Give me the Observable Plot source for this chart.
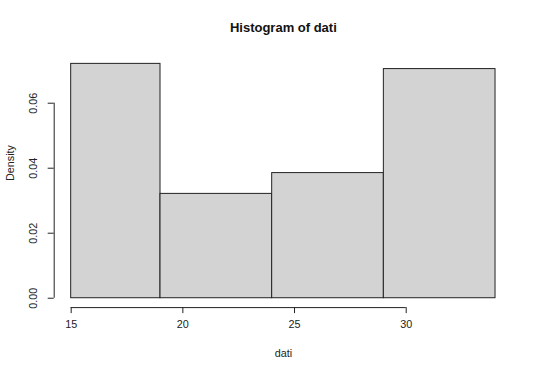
<!DOCTYPE html>
<html>
<head>
<meta charset="utf-8">
<script src="https://cdn.jsdelivr.net/npm/d3@7"></script>
<script src="https://cdn.jsdelivr.net/npm/@observablehq/plot@0.6"></script>
<style>
  body { margin: 0; background: #fff; }
  svg { font-family: "Liberation Sans", Arial, sans-serif; }
</style>
</head>
<body>
<div id="chart"></div>
<script>
const binStart = [15, 19, 24, 29];
const binEnd = [19, 24, 29, 34];
const density = [0.0721, 0.0321, 0.0385, 0.0705];
const xTicks = [15, 20, 25, 30];
const yTicks = [0.00, 0.02, 0.04, 0.06];

const bins = binStart.map((s, i) => ({x1: s, x2: binEnd[i], y: density[i]}));

// R-style 4% axis extension
const xmin = d3.min(binStart), xmax = d3.max(binEnd);
const xpad = (xmax - xmin) * 0.04;
const ymax = d3.max(density);
const ypad = ymax * 0.04;

const chart = Plot.plot({
  width: 540,
  height: 374,
  marginLeft: 53.7,
  marginRight: 28,
  marginTop: 54,
  marginBottom: 66.9,
  style: {color: "#000", background: "#fff", fontSize: "11px"},
  x: {domain: [xmin - xpad, xmax + xpad], axis: null},
  y: {domain: [-ypad, ymax + ypad], axis: null},
  marks: [
    Plot.rectY(bins, {x1: "x1", x2: "x2", y1: 0, y2: "y", fill: "#d3d3d3", stroke: "#222", strokeWidth: 1}),
    // x axis
    Plot.ruleY([-ypad], {x1: d3.min(xTicks), x2: d3.max(xTicks), stroke: "#222"}),
    Plot.axisX(xTicks, {anchor: "bottom", label: null, tickSize: 6, tickPadding: 7, fontSize: 10.8, stroke: "#222", fill: "#222"}),
    // y axis
    Plot.ruleX([xmin - xpad], {y1: d3.min(yTicks), y2: d3.max(yTicks), stroke: "#222"}),
    Plot.axisY(yTicks, {anchor: "left", label: null, tickSize: 6, tickFormat: () => "", stroke: "#222"}),
    Plot.text(yTicks, {y: d => d, text: d => d3.format(".2f")(d), frameAnchor: "left", rotate: -90, dx: -20.7, textAnchor: "middle", lineAnchor: "middle", fontSize: 10.8, fill: "#222"}),
    // titles
    Plot.text(["Histogram of dati"], {frameAnchor: "top", dy: -27, lineAnchor: "middle", fontWeight: "bold", fontSize: 13, fill: "#111"}),
    Plot.text(["dati"], {frameAnchor: "bottom", dy: 46, lineAnchor: "middle", fontSize: 10.8, fill: "#222"}),
    Plot.text(["Density"], {frameAnchor: "left", rotate: -90, dx: -43.7, lineAnchor: "middle", fontSize: 10.8, fill: "#222"})
  ]
});
document.getElementById("chart").appendChild(chart);
</script>
</body>
</html>
